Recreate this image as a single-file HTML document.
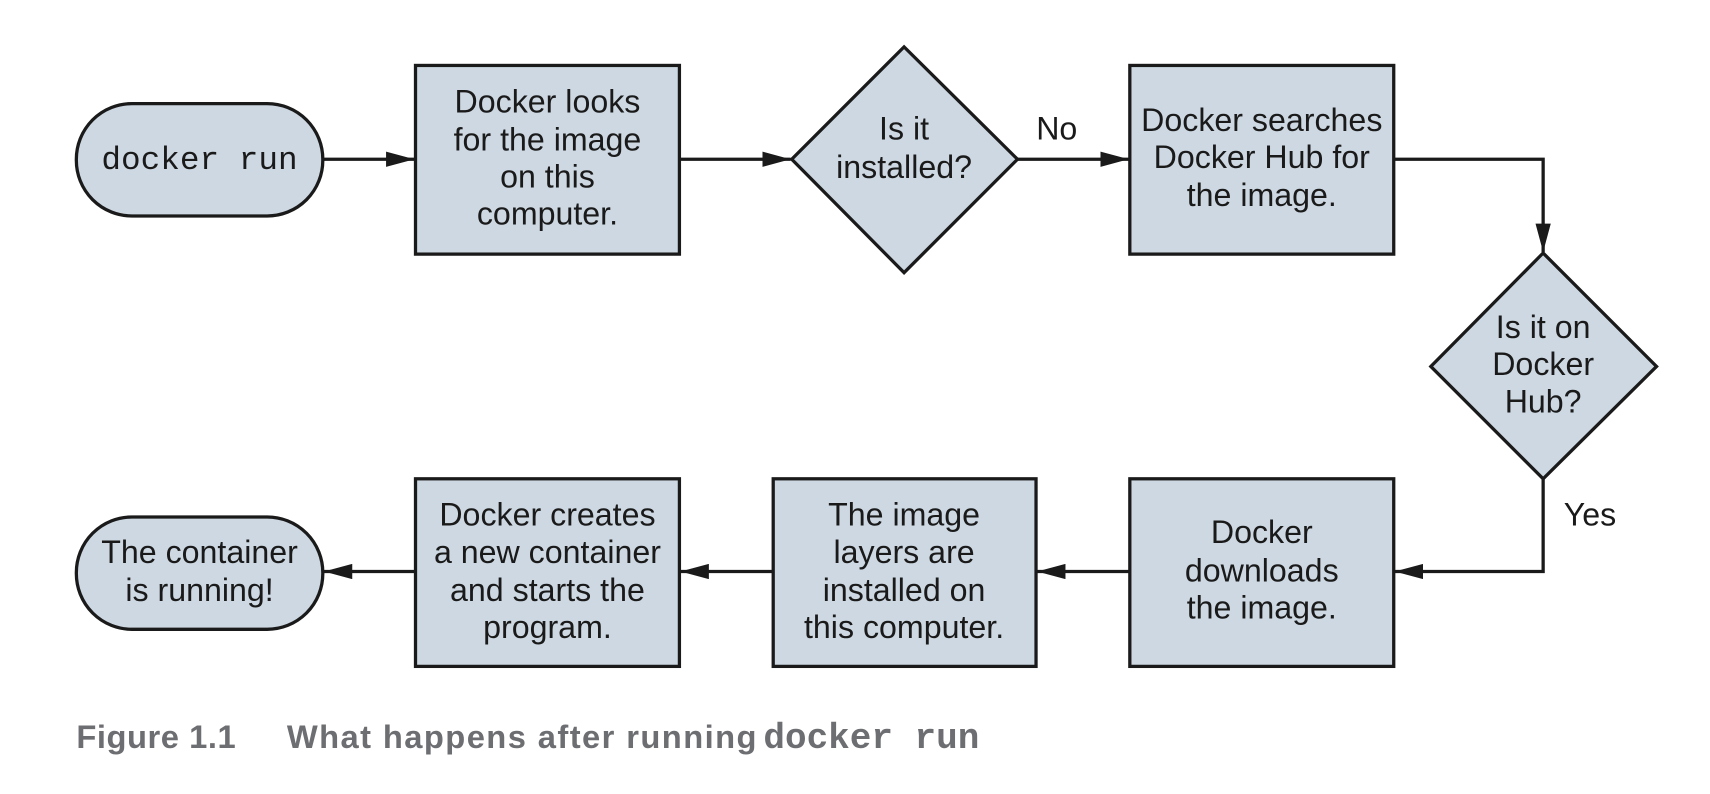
<!DOCTYPE html>
<html><head><meta charset="utf-8"><style>
html,body{margin:0;padding:0;background:#fff;}
svg{display:block}
text{font-family:"Liberation Sans",sans-serif;font-size:29.5px;fill:#1a1a1a;text-anchor:middle}
.m{font-family:"Liberation Mono",monospace}
</style></head><body>
<svg width="1710" height="794" viewBox="0 0 1568 728" preserveAspectRatio="none">
<defs>
<marker id="b" viewBox="0 0 26 14" markerWidth="26" markerHeight="14" refX="26" refY="7" orient="auto" markerUnits="userSpaceOnUse"><path d="M0,0 L26,7 L0,14 Z" fill="#1a1a1a"/></marker></defs>
<g fill="#cdd8e2" stroke="#1a1a1a" stroke-width="3">
<rect x="70" y="95" width="226" height="103" rx="51"/>
<rect x="381" y="60" width="242" height="173"/>
<polygon points="829,43 933,146 829,250 726,146"/>
<rect x="1036" y="60" width="242" height="173"/>
<polygon points="1415,232 1519,336 1415,439 1312,336"/>
<rect x="1036" y="439" width="242" height="172"/>
<rect x="709" y="439" width="241" height="172"/>
<rect x="381" y="439" width="242" height="172"/>
<rect x="70" y="474" width="226" height="103" rx="51"/>
</g>
<g stroke="#1a1a1a" stroke-width="3" fill="none">
<line x1="296" y1="146" x2="380" y2="146" marker-end="url(#b)"/>
<line x1="623" y1="146" x2="725" y2="146" marker-end="url(#b)"/>
<line x1="933" y1="146" x2="1035" y2="146" marker-end="url(#b)"/>
<polyline points="1278,146 1415,146 1415,231" marker-end="url(#b)"/>
<polyline points="1415,439 1415,524 1279,524" marker-end="url(#b)"/>
<line x1="1036" y1="524" x2="951" y2="524" marker-end="url(#b)"/>
<line x1="709" y1="524" x2="624" y2="524" marker-end="url(#b)"/>
<line x1="381" y1="524" x2="297" y2="524" marker-end="url(#b)"/>
</g>
<text class="m" x="183" y="155" style="font-size:30px">docker run</text>
<text x="502" y="103">Docker looks</text><text x="502" y="138">for the image</text><text x="502" y="172">on this</text><text x="502" y="206">computer.</text>
<text x="829" y="128">Is it</text><text x="829" y="163">installed?</text>
<text x="969" y="128">No</text>
<text x="1157" y="120">Docker searches</text><text x="1157" y="154">Docker Hub for</text><text x="1157" y="189">the image.</text>
<text x="1415" y="310">Is it on</text><text x="1415" y="344">Docker</text><text x="1415" y="378">Hub?</text>
<text x="1458" y="482">Yes</text>
<text x="1157" y="498">Docker</text><text x="1157" y="533">downloads</text><text x="1157" y="567">the image.</text>
<text x="829" y="482">The image</text><text x="829" y="516">layers are</text><text x="829" y="551">installed on</text><text x="829" y="585">this computer.</text>
<text x="502" y="482">Docker creates</text><text x="502" y="516">a new container</text><text x="502" y="551">and starts the</text><text x="502" y="585">program.</text>
<text x="183" y="516">The container</text><text x="183" y="551">is running!</text>
<text x="70" y="686" style="text-anchor:start;font-weight:bold;fill:#6d6e71;font-size:30px;letter-spacing:0.5px">Figure 1.1</text>
<text x="263" y="686" style="text-anchor:start;font-weight:bold;fill:#6d6e71;font-size:30px;letter-spacing:1.3px">What happens after running</text>
<text x="700" y="686" style="text-anchor:start;font-weight:bold;fill:#6d6e71;font-size:33px;font-family:'Liberation Mono',monospace">docker run</text>
</svg>
</body></html>
